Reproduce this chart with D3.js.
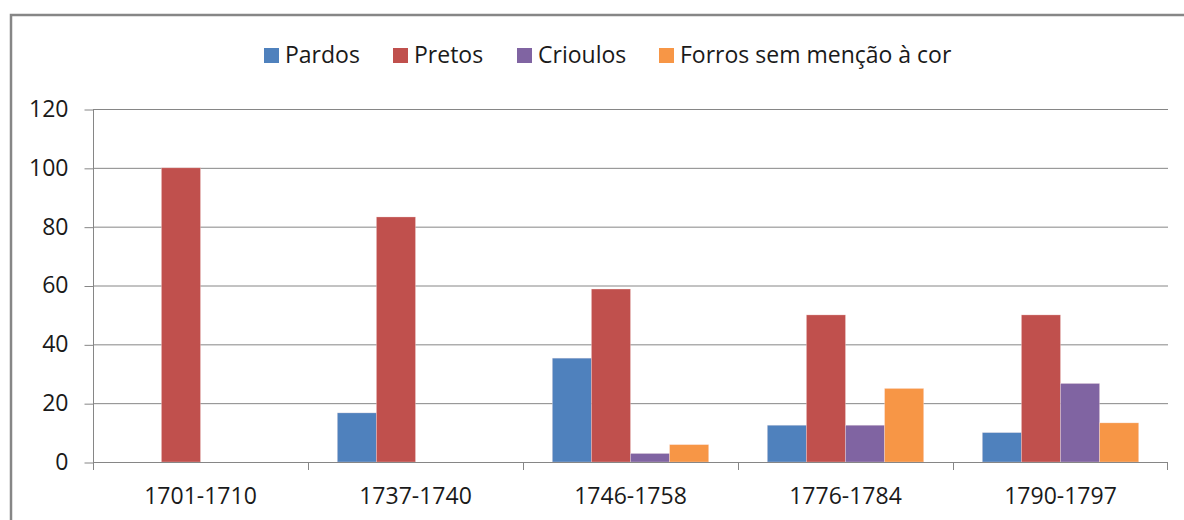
<!DOCTYPE html>
<html>
<head>
<meta charset="utf-8">
<script src="https://cdn.jsdelivr.net/npm/d3@7"></script>
<style>
  body { margin: 0; background: #fff; }
  text { font-family: "Open Sans", sans-serif; fill: #1a1a1a; }
</style>
</head>
<body>
<svg id="chart" width="1184" height="520"></svg>
<script>
// data
const periods = ["1701-1710", "1737-1740", "1746-1758", "1776-1784", "1790-1797"];
const seriesNames = ["Pardos", "Pretos", "Crioulos", "Forros sem menção à cor"];
const pardos   = [0, 16.7, 35.3, 12.5, 10.0];
const pretos   = [100, 83.3, 58.8, 50, 50];
const crioulos = [0, 0, 2.9, 12.5, 26.7];
const forros   = [0, 0, 5.9, 25, 13.3];
const yTicks = [0, 20, 40, 60, 80, 100, 120];
const colors = ["#4f81bd", "#c0504d", "#8064a2", "#f79646"];

const values = [pardos, pretos, crioulos, forros];

const margin = {left: 93, right: 1168, top: 109, bottom: 462};
const svg = d3.select("#chart");

// outer chart frame
svg.append("rect")
    .attr("x", 11).attr("y", 15)
    .attr("width", 1250).attr("height", 600)
    .attr("fill", "none")
    .attr("stroke", "#868686")
    .attr("stroke-width", 2.5);

const x0 = d3.scaleBand().domain(periods).range([margin.left, margin.right]).paddingInner(0).paddingOuter(0);
const bw = x0.bandwidth() / 5.5;   // gap width 150%
const x1 = d3.scaleBand().domain(seriesNames).range([bw * 0.75, bw * 4.75]);
const y = d3.scaleLinear().domain([0, 120]).range([margin.bottom, margin.top]);

// gridlines
svg.append("g")
    .selectAll("line")
    .data(yTicks.filter(d => d > 0))
    .join("line")
    .attr("x1", margin.left).attr("x2", margin.right)
    .attr("y1", d => y(d) + 0.5).attr("y2", d => y(d) + 0.5)
    .attr("stroke", "#868686").attr("stroke-width", 1);

// bars
const groups = svg.append("g")
    .selectAll("g")
    .data(periods)
    .join("g")
    .attr("transform", d => "translate(" + x0(d) + ",0)");

groups.selectAll("rect")
    .data((p, i) => seriesNames.map((s, k) => ({s: s, v: values[k][i], k: k})).filter(d => d.v > 0))
    .join("rect")
    .attr("x", d => x1(d.s))
    .attr("width", x1.bandwidth())
    .attr("y", d => y(d.v))
    .attr("height", d => y(0) - y(d.v))
    .attr("fill", d => colors[d.k])
    .attr("stroke", "#fbe9e9")
    .attr("stroke-opacity", 0.5)
    .attr("stroke-width", 0.6);

// y axis
const yAxis = d3.axisLeft(y).tickValues(yTicks).tickSize(9).tickPadding(16);
svg.append("g")
    .attr("class", "y axis")
    .attr("transform", "translate(" + (margin.left + 0.5) + ",0)")
    .call(yAxis)
    .call(g => g.select(".domain").attr("d", "M0," + margin.top + "V" + (margin.bottom + 8)).attr("stroke", "#868686"))
    .call(g => g.selectAll(".tick line").attr("stroke", "#868686").attr("transform", "translate(0,0.5)"))
    .call(g => g.selectAll("text").style("font-size", "23px").attr("fill", "#1a1a1a"));

// x axis
const xAxis = d3.axisBottom(x0).tickSize(0).tickPadding(25);
svg.append("g")
    .attr("class", "x axis")
    .attr("transform", "translate(0," + (margin.bottom + 0.5) + ")")
    .call(xAxis)
    .call(g => g.select(".domain").attr("d", "M" + margin.left + ",0H" + margin.right).attr("stroke", "#868686"))
    .call(g => g.selectAll("text").style("font-size", "23px").attr("fill", "#1a1a1a"));

// category separator ticks
svg.append("g")
    .selectAll("line")
    .data(periods.slice(1).concat(["end"]))
    .join("line")
    .attr("x1", d => d === "end" ? margin.right - 0.5 : x0(d) + 0.5)
    .attr("x2", d => d === "end" ? margin.right - 0.5 : x0(d) + 0.5)
    .attr("y1", margin.bottom).attr("y2", margin.bottom + 8)
    .attr("stroke", "#868686");

// legend
const legendX = [264, 393, 517, 659];
const legend = svg.append("g")
    .selectAll("g")
    .data(seriesNames)
    .join("g")
    .attr("transform", (d, i) => "translate(" + legendX[i] + ",48)");
legend.append("rect")
    .attr("width", 15).attr("height", 15)
    .attr("fill", (d, i) => colors[i]);
legend.append("text")
    .attr("x", 21).attr("y", 15)
    .style("font-size", "23px")
    .text(d => d);
</script>
</body>
</html>
